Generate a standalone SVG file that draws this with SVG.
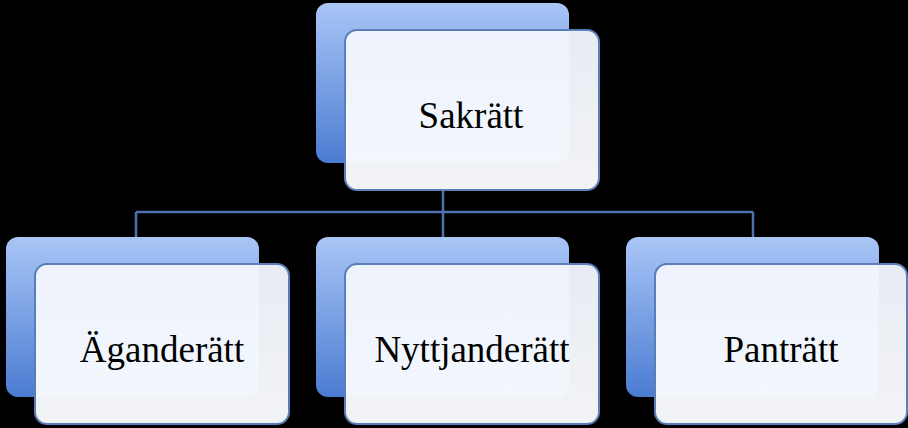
<svg xmlns="http://www.w3.org/2000/svg" width="908" height="428" viewBox="0 0 908 428">
<defs>
<linearGradient id="bg" x1="0" y1="0" x2="0" y2="1"><stop offset="0" stop-color="#a9c5f6"/><stop offset="1" stop-color="#4b7cd2"/></linearGradient>
<linearGradient id="fg" x1="0" y1="0" x2="0" y2="1"><stop offset="0" stop-color="#f1f5fd"/><stop offset="1" stop-color="#fcfdff"/></linearGradient>
</defs>
<style>
.back{fill:url(#bg)}
.front{fill:url(#fg);fill-opacity:0.96;stroke:#5b7db8;stroke-width:2}
.t{font-family:"Liberation Serif","DejaVu Serif",serif;font-size:37px;fill:#000;text-anchor:middle}
.c{stroke:#4f72ae;stroke-width:2.5;fill:none}
</style>
<rect width="908" height="428" fill="#000"/>
<g id="connectors">
<path class="c" d="M443 190V212M136 212H753M136 212V237M443 212V237M753 212V237"/>
</g>
<g id="sakratt">
<rect class="back" x="316" y="3" width="253" height="160" rx="12"/>
<rect class="front" x="345" y="30" width="254" height="160" rx="12"/>
<text class="t" x="471" y="128">Sakrätt</text>
</g>
<g id="aganderatt">
<rect class="back" x="6" y="237" width="253" height="160" rx="12"/>
<rect class="front" x="35" y="264" width="254" height="160" rx="12"/>
<text class="t" x="162" y="362">Äganderätt</text>
</g>
<g id="nyttjanderatt">
<rect class="back" x="316" y="237" width="253" height="160" rx="12"/>
<rect class="front" x="345" y="264" width="254" height="160" rx="12"/>
<text class="t" x="472" y="362">Nyttjanderätt</text>
</g>
<g id="pantratt">
<rect class="back" x="626" y="237" width="253" height="160" rx="12"/>
<rect class="front" x="655" y="264" width="252" height="160" rx="12"/>
<text class="t" x="781" y="362">Panträtt</text>
</g>
</svg>
